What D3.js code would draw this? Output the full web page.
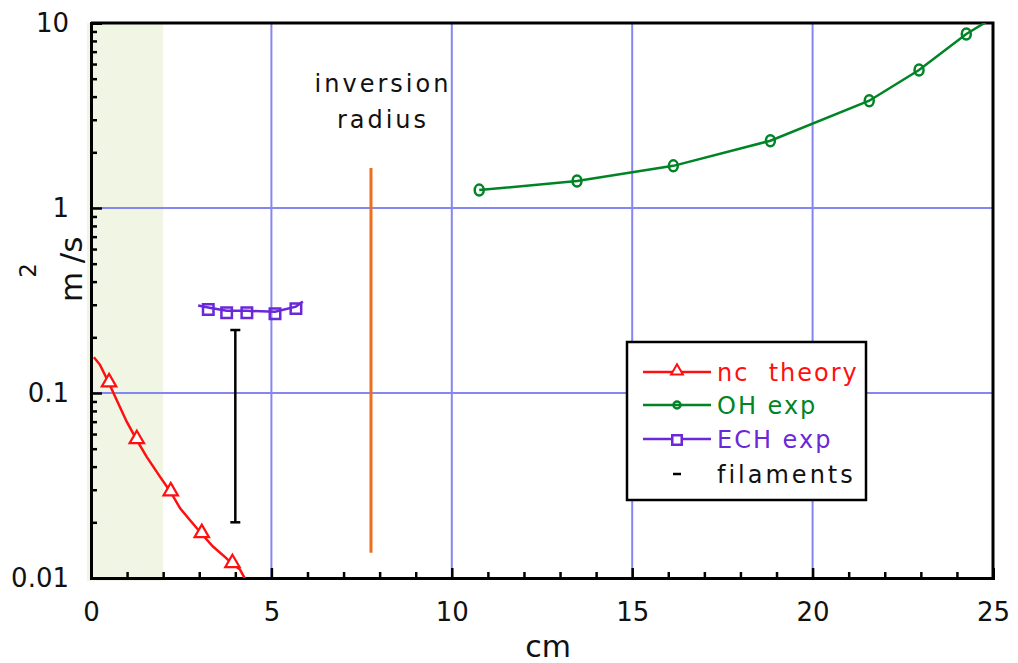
<!DOCTYPE html>
<html>
<head>
<meta charset="utf-8">
<script src="https://cdn.jsdelivr.net/npm/d3@7"></script>
<style>
  body { margin: 0; background: #fff; }
  text { font-family: "DejaVu Sans", sans-serif; }
</style>
</head>
<body>
<script>
// nc theory curve (cm, m^2/s) and its marker points
const ncX = [0.08, 0.25, 0.5, 0.67, 0.99, 1.27, 1.54, 1.91, 2.21, 2.47, 2.74, 3.07, 3.38, 3.71, 3.92, 4.13, 4.27];
const ncY = [0.156, 0.142, 0.113, 0.0955, 0.070, 0.0557, 0.0453, 0.0353, 0.0291, 0.0238, 0.0206, 0.0173, 0.0148, 0.0130, 0.0119, 0.0111, 0.0099];
const ncMarkX = [0.5, 1.27, 2.21, 3.07, 3.92];
const ncMarkY = [0.113, 0.0557, 0.0291, 0.0173, 0.0119];

// OH exp
const ohX = [10.76, 13.47, 16.14, 18.83, 21.57, 22.95, 24.26, 24.8];
const ohY = [1.25, 1.40, 1.69, 2.31, 3.80, 5.57, 8.72, 10.1];
const ohMarkX = [10.76, 13.47, 16.14, 18.83, 21.57, 22.95, 24.26];
const ohMarkY = [1.25, 1.40, 1.69, 2.31, 3.80, 5.57, 8.72];

// ECH exp
const echX = [2.97, 3.25, 3.76, 4.32, 5.10, 5.68, 5.87];
const echY = [0.297, 0.290, 0.278, 0.278, 0.275, 0.293, 0.312];
const echMarkX = [3.25, 3.76, 4.32, 5.10, 5.68];
const echMarkY = [0.290, 0.278, 0.278, 0.275, 0.293];

// filaments range and inversion radius
const filX = 4.0;
const filRange = [0.020, 0.219];
const invX = 7.76;
const invRange = [0.0137, 1.645];

const xMajor = [0, 5, 10, 15, 20, 25];
const xMinor = d3.range(0, 26);
const yMajor = [0.01, 0.1, 1, 10];
const yLabels = ["0.01", "0.1", "1", "10"];
const yMinor = [0.01, 0.1, 1].flatMap(d => d3.range(2, 10).map(k => +(d * k).toPrecision(3)));
const xGrid = [5, 10, 15, 20];
const yGrid = [0.1, 1];
const shadeRange = [0, 2];

const W = 1018, H = 663;
const x = d3.scaleLinear().domain([0, 25]).range([91, 993]);
const y = d3.scaleLog().domain([0.01, 10]).range([578, 23]);

const svg = d3.select("body").append("svg").attr("width", W).attr("height", H);

svg.append("defs").append("clipPath").attr("id", "plot")
  .append("rect").attr("x", 91).attr("y", 23).attr("width", 902).attr("height", 555);

// shaded band
svg.append("rect")
  .attr("x", x(shadeRange[0]) - 4).attr("y", 23)
  .attr("width", x(shadeRange[1]) - x(shadeRange[0]) + 4).attr("height", 558)
  .attr("fill", "#f0f5e4");

// grid
const gridColor = "#8686f0";
svg.selectAll(".gx").data(xGrid).enter().append("line")
  .attr("x1", d => x(d)).attr("x2", d => x(d)).attr("y1", 23).attr("y2", 578)
  .attr("stroke", gridColor).attr("stroke-width", 2);
svg.selectAll(".gy").data(yGrid).enter().append("line")
  .attr("x1", 91).attr("x2", 993).attr("y1", d => y(d)).attr("y2", d => y(d))
  .attr("stroke", gridColor).attr("stroke-width", 2);

// axes
svg.append("g").attr("transform", "translate(0,578)")
  .call(d3.axisBottom(x).tickValues(xMajor).tickSize(-10).tickPadding(25).tickFormat(d3.format("d")));
svg.append("g").attr("transform", "translate(0,578)")
  .call(d3.axisBottom(x).tickValues(xMinor.filter(d => d % 5)).tickSize(-6).tickFormat(""))
  .call(g => g.select(".domain").remove());
svg.append("g").attr("transform", "translate(91,0)")
  .call(d3.axisLeft(y).tickValues(yMajor).tickSize(-11).tickPadding(22).tickFormat((d, i) => yLabels[i]));
svg.append("g").attr("transform", "translate(91,0)")
  .call(d3.axisLeft(y).tickValues(yMinor).tickSize(-6).tickFormat(""))
  .call(g => g.select(".domain").remove());

svg.selectAll(".tick line").attr("stroke", "#000").attr("stroke-width", 2.5);
svg.selectAll(".domain").attr("stroke", "#000").attr("stroke-width", 3);
svg.selectAll(".tick text").attr("font-size", 26).attr("fill", "#111")
  .attr("font-family", "DejaVu Sans");

// top and right frame
svg.append("path").attr("d", `M${x(0)},${y(10)}H${x(25)}V${y(0.01)}`)
  .attr("fill", "none").attr("stroke", "#000").attr("stroke-width", 3);

// data
const plot = svg.append("g").attr("clip-path", "url(#plot)");
const line = d3.line().x(d => x(d[0])).y(d => y(d[1]));

const red = "#ff1010", green = "#008426", purple = "#6a28d8", orange = "#ee6e1e";

plot.append("path").datum(d3.zip(ncX, ncY)).attr("d", line)
  .attr("fill", "none").attr("stroke", red).attr("stroke-width", 2.5);
plot.append("path").datum(d3.zip(ohX, ohY)).attr("d", line)
  .attr("fill", "none").attr("stroke", green).attr("stroke-width", 2.5);
plot.append("path").datum(d3.zip(echX, echY)).attr("d", line)
  .attr("fill", "none").attr("stroke", purple).attr("stroke-width", 2.5);

const tri = d3.symbol().type(d3.symbolTriangle).size(90);
const sq = d3.symbol().type(d3.symbolSquare).size(110);

svg.selectAll(".nc").data(d3.zip(ncMarkX, ncMarkY)).enter().append("path")
  .attr("d", tri).attr("transform", d => `translate(${x(d[0])},${y(d[1]) - 1})`)
  .attr("fill", "#fff").attr("stroke", red).attr("stroke-width", 2.2);
svg.selectAll(".oh").data(d3.zip(ohMarkX, ohMarkY)).enter().append("ellipse")
  .attr("cx", d => x(d[0])).attr("cy", d => y(d[1])).attr("rx", 4.5).attr("ry", 5.5)
  .attr("fill", "none").attr("stroke", green).attr("stroke-width", 2.5);
svg.selectAll(".ech").data(d3.zip(echMarkX, echMarkY)).enter().append("path")
  .attr("d", sq).attr("transform", d => `translate(${x(d[0])},${y(d[1]) + 2})`)
  .attr("fill", "none").attr("stroke", purple).attr("stroke-width", 2.5);

// filaments bar
const fil = svg.append("g").attr("stroke", "#000").attr("stroke-width", 2.5);
fil.append("line").attr("x1", x(filX)).attr("x2", x(filX)).attr("y1", y(filRange[0])).attr("y2", y(filRange[1]));
fil.selectAll(".cap").data(filRange).enter().append("line")
  .attr("x1", x(filX) - 5).attr("x2", x(filX) + 5).attr("y1", d => y(d)).attr("y2", d => y(d));

// inversion radius
svg.append("line").attr("x1", x(invX)).attr("x2", x(invX))
  .attr("y1", y(invRange[0])).attr("y2", y(invRange[1]))
  .attr("stroke", orange).attr("stroke-width", 3);
svg.append("text").attr("x", 383).attr("y", 92).attr("text-anchor", "middle")
  .attr("font-size", 24).attr("letter-spacing", 3).attr("fill", "#111").text("inversion");
svg.append("text").attr("x", 383).attr("y", 128).attr("text-anchor", "middle")
  .attr("font-size", 24).attr("letter-spacing", 3).attr("fill", "#111").text("radius");

// axis titles
svg.append("text").attr("x", 548).attr("y", 657).attr("text-anchor", "middle")
  .attr("font-size", 30).attr("fill", "#111").text("cm");
const yt = svg.append("text").attr("transform", "translate(82,302) rotate(-90)")
  .attr("font-size", 31).attr("fill", "#111");
yt.append("tspan").text("m");
yt.append("tspan").attr("font-size", 23).attr("dy", -46).attr("dx", -6).text("2");
yt.append("tspan").attr("dy", 46).attr("dx", 0).text("/s");

// legend
const lg = svg.append("g");
lg.append("rect").attr("x", 627).attr("y", 342).attr("width", 239).attr("height", 158)
  .attr("fill", "#fff").attr("stroke", "#000").attr("stroke-width", 2.5);
const legNames = ["nc  theory", "OH exp", "ECH exp", "filaments"];
const legColors = [red, green, purple, "#111"];
const legY = [372, 405, 439, 474];
legNames.forEach((name, i) => {
  const cy = legY[i];
  if (i < 3) {
    lg.append("line").attr("x1", 643).attr("x2", 711).attr("y1", cy).attr("y2", cy)
      .attr("stroke", legColors[i]).attr("stroke-width", 2.5);
  }
  if (i === 0) lg.append("path").attr("d", d3.symbol().type(d3.symbolTriangle).size(60))
    .attr("transform", `translate(677,${cy - 1})`)
    .attr("fill", "#fff").attr("stroke", red).attr("stroke-width", 2);
  if (i === 1) lg.append("circle").attr("cx", 677).attr("cy", cy).attr("r", 3.5)
    .attr("fill", "none").attr("stroke", green).attr("stroke-width", 2.5);
  if (i === 2) lg.append("path").attr("d", d3.symbol().type(d3.symbolSquare).size(90))
    .attr("transform", `translate(677,${cy + 1})`)
    .attr("fill", "#fff").attr("stroke", purple).attr("stroke-width", 2.5);
  if (i === 3) lg.append("line").attr("x1", 673).attr("x2", 681).attr("y1", cy).attr("y2", cy)
    .attr("stroke", "#000").attr("stroke-width", 2.5);
  lg.append("text").attr("x", 717).attr("y", cy + 9).attr("font-size", 24)
    .attr("letter-spacing", i === 3 ? 3 : 2).attr("fill", legColors[i])
    .style("white-space", "pre").text(name);
});
</script>
</body>
</html>
